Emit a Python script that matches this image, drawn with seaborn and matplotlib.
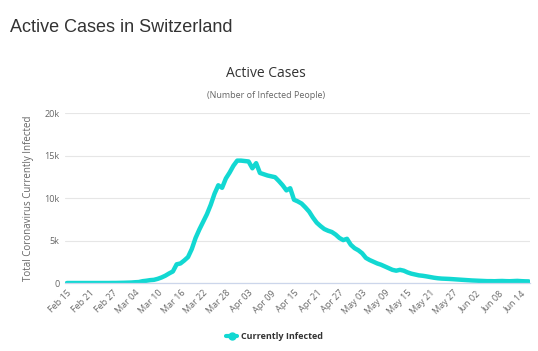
import matplotlib
matplotlib.use("Agg")
import matplotlib.pyplot as plt
import matplotlib.dates as mdates
from matplotlib.lines import Line2D
import pandas as pd
import seaborn as sns

START_DATE = "2020-02-15"
ACTIVE_CASES = [
    0, 0, 0, 0, 0, 0, 0, 0, 0, 0,
    1, 1, 8, 8, 18, 27, 42, 56, 90, 114,
    214, 268, 337, 374, 491, 652, 858, 1125, 1359, 2200,
    2300, 2650, 3050, 4000, 5300, 6300, 7200, 8100, 9200, 10500,
    11500, 11200, 12300, 13000, 13800, 14400, 14400, 14350, 14300, 13500,
    14100, 12950, 12800, 12650, 12550, 12450, 12000, 11500, 10900, 11150,
    9800, 9600, 9350, 8900, 8400, 7700, 7100, 6700, 6350, 6150,
    6000, 5700, 5300, 5050, 5200, 4500, 4100, 3850, 3500, 2950,
    2700, 2500, 2300, 2150, 1950, 1750, 1550, 1450, 1550, 1450,
    1250, 1100, 1000, 900, 850, 780, 700, 620, 560, 520,
    500, 480, 450, 420, 390, 360, 330, 300, 280, 260,
    240, 220, 220, 210, 230, 240, 220, 210, 230, 250,
    220, 200, 190,
]
Y_TICKS = [0, 5000, 10000, 15000, 20000]
Y_TICK_LABELS = ["0", "5k", "10k", "15k", "20k"]

LINE_COLOR = "#12d8d2"
TEXT_GRAY = "#666666"

frame = pd.DataFrame({
    "date": pd.date_range(START_DATE, periods=len(ACTIVE_CASES), freq="D"),
    "active": ACTIVE_CASES,
})

sns.set_theme(style="white")
plt.rcParams["font.family"] = ["Open Sans", "DejaVu Sans"]

fig = plt.figure(figsize=(5.38, 3.51), dpi=100)
ax = fig.add_axes([0.1208, 0.1937, 0.864, 0.4843])

sns.lineplot(data=frame, x="date", y="active", color=LINE_COLOR, linewidth=3.2, ax=ax)

ax.set_ylim(0, 20000)
ax.set_yticks(Y_TICKS)
ax.set_yticklabels(Y_TICK_LABELS)
ax.set_xlim(frame["date"].iloc[0] - pd.Timedelta(days=0.5),
            frame["date"].iloc[-1] + pd.Timedelta(days=0.3))
ticks = pd.date_range(START_DATE, frame["date"].iloc[-1], freq="6D")
ax.set_xticks(ticks)
ax.set_xticklabels([d.strftime("%b %d") for d in ticks], rotation=45, ha="right",
                   rotation_mode="anchor")
ax.tick_params(axis="both", labelsize=6.5, colors=TEXT_GRAY, length=0, pad=4)

ax.grid(axis="y", color="#e6e6e6", linewidth=0.8)
for side in ["top", "right", "left"]:
    ax.spines[side].set_visible(False)
ax.spines["bottom"].set_color("#ccd6eb")
ax.spines["bottom"].set_linewidth(0.9)

ax.set_xlabel("")
ax.set_ylabel("Total Coronavirus Currently Infected", fontsize=7, color=TEXT_GRAY, labelpad=7)

fig.text(0.019, 0.922, "Active Cases in Switzerland", fontsize=13, color="#333333",
         family=["Liberation Sans", "DejaVu Sans"], va="center", ha="left")
fig.text(0.495, 0.792, "Active Cases", fontsize=10, color="#333333", ha="center", va="center")
fig.text(0.495, 0.727, "(Number of Infected People)", fontsize=6.5, color=TEXT_GRAY,
         ha="center", va="center")

handle = Line2D([], [], color=LINE_COLOR, linewidth=3, marker="o", markersize=5)
leg = fig.legend([handle], ["Currently Infected"], loc="center", bbox_to_anchor=(0.51, 0.04),
                 frameon=False, handlelength=1.2, handletextpad=0.4,
                 prop={"size": 6.5, "weight": "bold"})
for t in leg.get_texts():
    t.set_color("#333333")

fig.savefig("out.png", dpi=100)
